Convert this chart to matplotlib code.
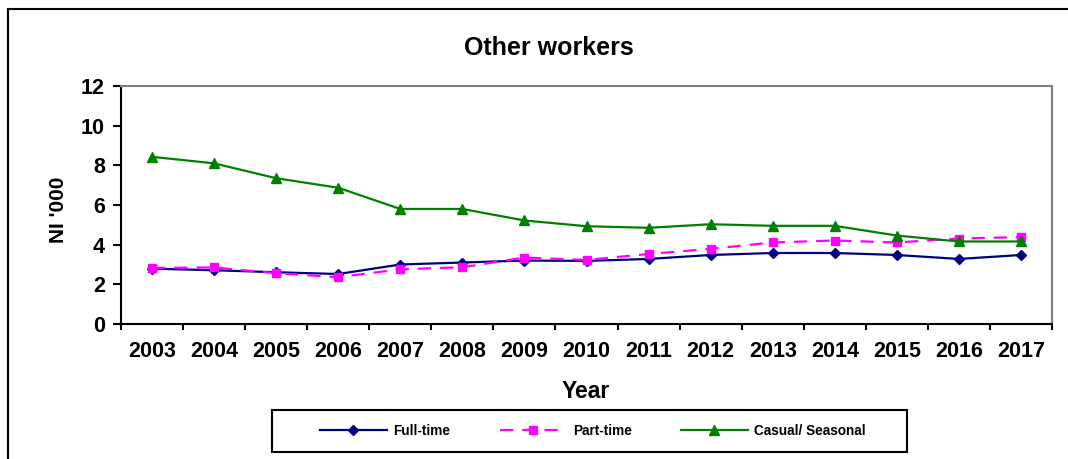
import matplotlib.pyplot as plt
import numpy as np
from matplotlib.patches import Rectangle

years = ['2003', '2004', '2005', '2006', '2007', '2008', '2009', '2010',
         '2011', '2012', '2013', '2014', '2015', '2016', '2017']
full_time = [2.79, 2.71, 2.61, 2.52, 3.0, 3.1, 3.2, 3.18, 3.28, 3.48, 3.58, 3.58, 3.48, 3.28, 3.48]
part_time = [2.83, 2.85, 2.56, 2.36, 2.76, 2.86, 3.35, 3.23, 3.53, 3.79, 4.11, 4.21, 4.11, 4.31, 4.38]
casual = [8.43, 8.1, 7.35, 6.87, 5.8, 5.8, 5.22, 4.93, 4.85, 5.03, 4.95, 4.95, 4.46, 4.16, 4.16]

plt.rcParams['font.family'] = ['Liberation Sans', 'DejaVu Sans']

fig = plt.figure(figsize=(10.68, 4.59), dpi=100)
W, H = 1068, 459
ax = fig.add_axes([121 / W, 1 - 324 / H, (1052 - 121) / W, (324 - 86) / H])

x = np.arange(len(years))
ax.plot(x, full_time, color='#000080', marker='D', markersize=5, linewidth=1.6, label='Full-time')
ax.plot(x, part_time, color='#FF00FF', marker='s', markersize=6, linewidth=1.6,
        dashes=(6, 4), label='Part-time')
ax.plot(x, casual, color='#008000', marker='^', markersize=7, linewidth=1.6, label='Casual/ Seasonal')

ax.set_xlim(-0.5, len(years) - 0.5)
ax.set_ylim(0, 12)
ax.set_yticks(range(0, 13, 2))
ax.set_xticks(x)
ax.set_xticklabels(years)
ax.set_xticks(np.arange(-0.5, len(years)), minor=True)
ax.tick_params(axis='x', which='major', length=0, pad=12, labelsize=15.5)
ax.tick_params(axis='x', which='minor', length=4, width=1.5, direction='out')
ax.tick_params(axis='y', length=5.5, width=1.5, labelsize=15.5, pad=6)
for lbl in ax.get_xticklabels() + ax.get_yticklabels():
    lbl.set_fontweight('bold')

ax.spines['left'].set_linewidth(1.5)
ax.spines['bottom'].set_linewidth(1.5)
ax.spines['top'].set_color('#808080')
ax.spines['right'].set_color('#808080')
ax.spines['top'].set_linewidth(1.5)
ax.spines['right'].set_linewidth(1.5)

fig.text(549 / W, 1 - 48 / H, 'Other workers', ha='center', va='center',
         fontsize=18, fontweight='bold')
fig.text(58 / W, 1 - 210 / H, "NI '000", ha='center', va='center', rotation=90,
         fontsize=15, fontweight='bold')
fig.text(586 / W, 1 - 392 / H, 'Year', ha='center', va='center',
         fontsize=16.5, fontweight='bold')

leg = fig.legend(loc='center', bbox_to_anchor=(593 / W, 1 - 431 / H), ncol=3,
                 frameon=False, prop={'size': 9.8, 'weight': 'bold'},
                 handlelength=4.9, handletextpad=0.5, columnspacing=3.6)

# legend frame
fig.patches.append(Rectangle((272 / W, 1 - 452 / H), (907 - 272) / W, 42 / H,
                             transform=fig.transFigure, fill=False,
                             edgecolor='black', linewidth=1.5))
# outer chart border (open on right and bottom)
fig.patches.append(Rectangle((7.5 / W, -0.05), 1.2, 1 - 9 / H + 0.05,
                             transform=fig.transFigure, fill=False,
                             edgecolor='black', linewidth=1.5))

fig.savefig('out.png', dpi=100)
